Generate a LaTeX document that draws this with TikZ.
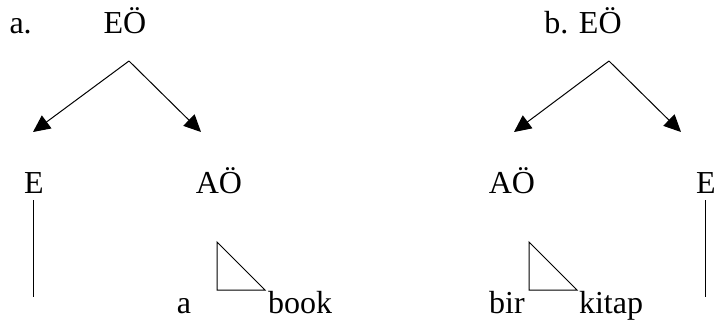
\documentclass[tikz,border=0pt]{standalone}
\usepackage{fontspec}
\setmainfont{Liberation Serif}
\usetikzlibrary{arrows.meta}

\begin{document}
\begin{tikzpicture}[x=1pt,y=-1pt,line width=1pt]

        \useasboundingbox (0,0) rectangle (716,325);

        \begin{scope}[every node/.style={anchor=base, inner sep=0pt, font=\fontsize{32}{38}\selectfont}]
          % tree a
          \node[anchor=base west] (la) at (9,33)   {a.};
          \node (ra)  at (125,33)  {EÖ};
          \node (ea)  at (34,193)  {E};
          \node (aa)  at (219,193) {AÖ};
          \node (d1)  at (184,313) {a};
          \node (n1)  at (300,313) {book};
          % tree b
          \node (rb)  at (583,33)  {b. EÖ};
          \node (ab)  at (512,193) {AÖ};
          \node (eb)  at (706,193) {E};
          \node (d2)  at (507,313) {bir};
          \node (n2)  at (611,313) {kitap};
        \end{scope}

        \coordinate (topa) at (129,61);
        \coordinate (la1)  at (33,132);
        \coordinate (la2)  at (201,132);
        \coordinate (topb) at (609,61);
        \coordinate (lb1)  at (514,132);
        \coordinate (lb2)  at (681,132);

        \begin{scope}[every edge/.style={draw, -{Triangle[length=17pt,width=16pt]}}]
          \path (topa) edge (la1);
          \path (topa) edge (la2);
          \path (topb) edge (lb1);
          \path (topb) edge (lb2);
        \end{scope}

        \coordinate (va1) at (33,200);
        \coordinate (va2) at (33,297);
        \coordinate (vb1) at (705,200);
        \coordinate (vb2) at (705,297);
        \draw (va1) -- (va2);
        \draw (vb1) -- (vb2);

        \coordinate (ta1) at (217,242);
        \coordinate (ta2) at (217,290);
        \coordinate (ta3) at (265,290);
        \draw (ta1) -- (ta2) -- (ta3) -- cycle;
        \coordinate (tb1) at (529,242);
        \coordinate (tb2) at (529,290);
        \coordinate (tb3) at (577,290);
        \draw (tb1) -- (tb2) -- (tb3) -- cycle;

      \end{tikzpicture}
\end{document}
